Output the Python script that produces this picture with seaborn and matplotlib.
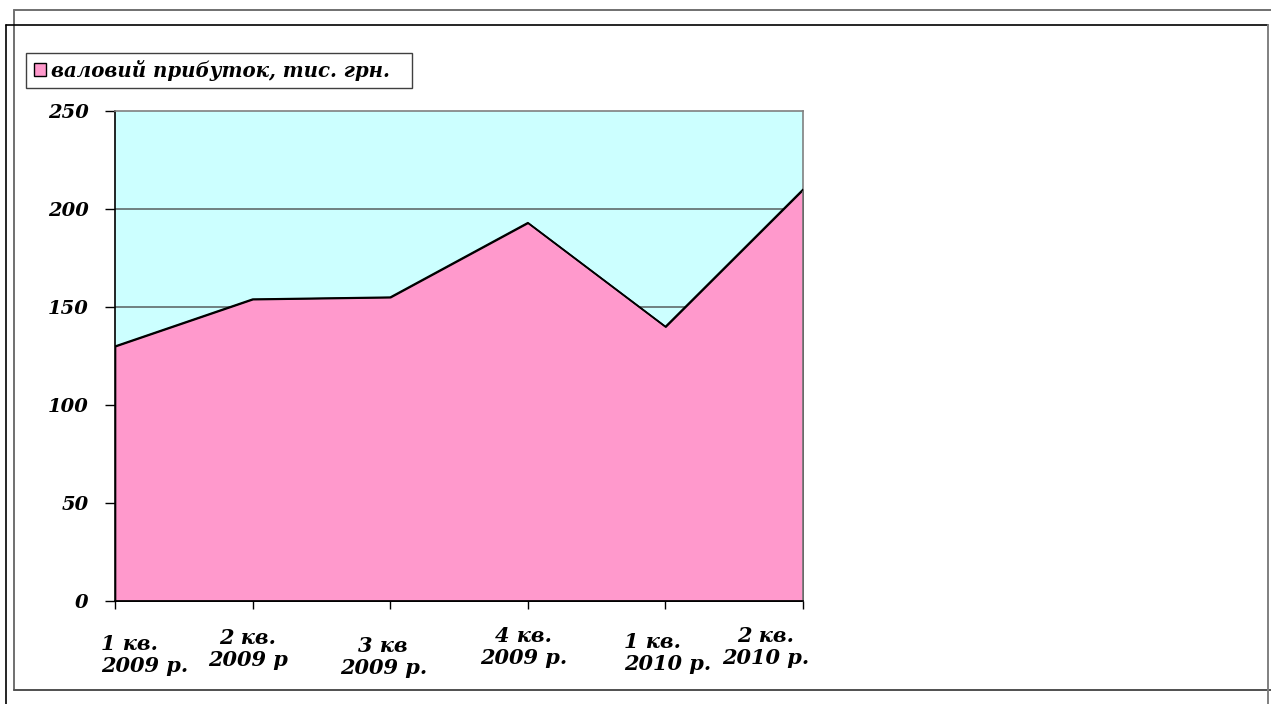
import matplotlib
matplotlib.use("Agg")
import matplotlib.pyplot as plt
from matplotlib.lines import Line2D
from matplotlib.patches import Rectangle
import seaborn as sns
import pandas as pd

# Quarterly gross profit, thousand UAH
quarters = ["1 кв.\n2009 р.", "2 кв.\n2009 р", "3 кв\n2009 р.",
            "4 кв.\n2009 р.", "1 кв.\n2010 р.", "2 кв.\n2010 р."]
profit = [130, 154, 155, 193, 140, 210]
y_ticks = [0, 50, 100, 150, 200, 250]
series_name = "валовий прибуток, тис. грн."

sns.set_theme(style="white")
plt.rcParams["font.family"] = ["DejaVu Serif"]
plt.rcParams["font.weight"] = "bold"
plt.rcParams["font.style"] = "italic"
plt.rcParams["text.color"] = "black"
plt.rcParams["xtick.color"] = "black"
plt.rcParams["ytick.color"] = "black"

W, H = 1271, 704
fig = plt.figure(figsize=(W / 100, H / 100), dpi=100)
fig.patch.set_facecolor("white")

def fx(px):
    return px / W

def fy(py):
    return 1 - py / H

ax = fig.add_axes([fx(115), fy(601), fx(803) - fx(115), fy(111) - fy(601)])
ax.set_facecolor("#CCFFFF")

df = pd.DataFrame({"pos": range(len(quarters)), "profit": profit})

for v in y_ticks[1:-1]:
    ax.axhline(v, color="#5f6b6b", lw=1.2, zorder=1)

ax.fill_between(df["pos"], df["profit"], 0, facecolor="#FF99CC",
                edgecolor="black", lw=1.2, zorder=2)
sns.lineplot(data=df, x="pos", y="profit", color="black", lw=1.2,
             ax=ax, zorder=3)

ax.set_xlim(0, len(quarters) - 1)
ax.set_ylim(0, 250)
ax.set_yticks(y_ticks)
ax.set_yticklabels([str(v) for v in y_ticks], fontsize=14,
                   fontweight="bold", fontstyle="italic", color="black")
ax.set_xticks(list(df["pos"]))
ax.set_xticklabels([])
ax.set_xlabel("")
ax.set_ylabel("")
ax.tick_params(axis="y", direction="out", length=7, width=1, color="black",
               pad=12, left=True)
ax.tick_params(axis="x", direction="out", length=6, width=1, color="black",
               bottom=True)

for side in ("left", "bottom"):
    ax.spines[side].set_color("black")
    ax.spines[side].set_linewidth(1.2)
for side in ("top", "right"):
    ax.spines[side].set_color("#808080")
    ax.spines[side].set_linewidth(1.2)

# Staggered two-line category labels
label_style = [
    (30, 33, "left"),
    (-5, 27, "center"),
    (-7, 35, "center"),
    (-4, 25, "center"),
    (2, 31, "left"),
    (-37, 25, "center"),
]
for i, (txt, (dx, dy, ma)) in enumerate(zip(quarters, label_style)):
    ax.annotate(txt, xy=(i, 0), xycoords="data",
                xytext=(dx * 0.72, -dy * 0.72), textcoords="offset points",
                ha="center", va="top", multialignment=ma,
                fontsize=15, fontweight="bold", fontstyle="italic",
                color="black", linespacing=1.15, annotation_clip=False)

# Legend box
fig.add_artist(Rectangle((fx(26), fy(88)), fx(412) - fx(26), fy(53) - fy(88),
                         transform=fig.transFigure, facecolor="white",
                         edgecolor="#404040", lw=1.0))
fig.add_artist(Rectangle((fx(34), fy(76)), fx(46) - fx(34), fy(63) - fy(76),
                         transform=fig.transFigure, facecolor="#FF99CC",
                         edgecolor="black", lw=1.0))
fig.text(fx(51), fy(70.5), series_name, ha="left", va="center",
         fontsize=14.2, fontweight="bold", fontstyle="italic", color="black")

# Outer frames
def line(x0, y0, x1, y1, color, lw):
    fig.add_artist(Line2D([fx(x0), fx(x1)], [fy(y0), fy(y1)],
                          transform=fig.transFigure, color=color, lw=lw))

line(14, 10, 1271, 10, "#707070", 1.4)
line(14, 10, 14, 690, "#707070", 1.4)
line(14, 690, 1271, 690, "#505050", 1.4)
line(6, 25, 1268, 25, "black", 1.2)
line(6, 25, 6, 704, "black", 1.2)
line(1268, 25, 1268, 704, "#808080", 1.4)

fig.savefig("out.png", dpi=100, facecolor="white")
